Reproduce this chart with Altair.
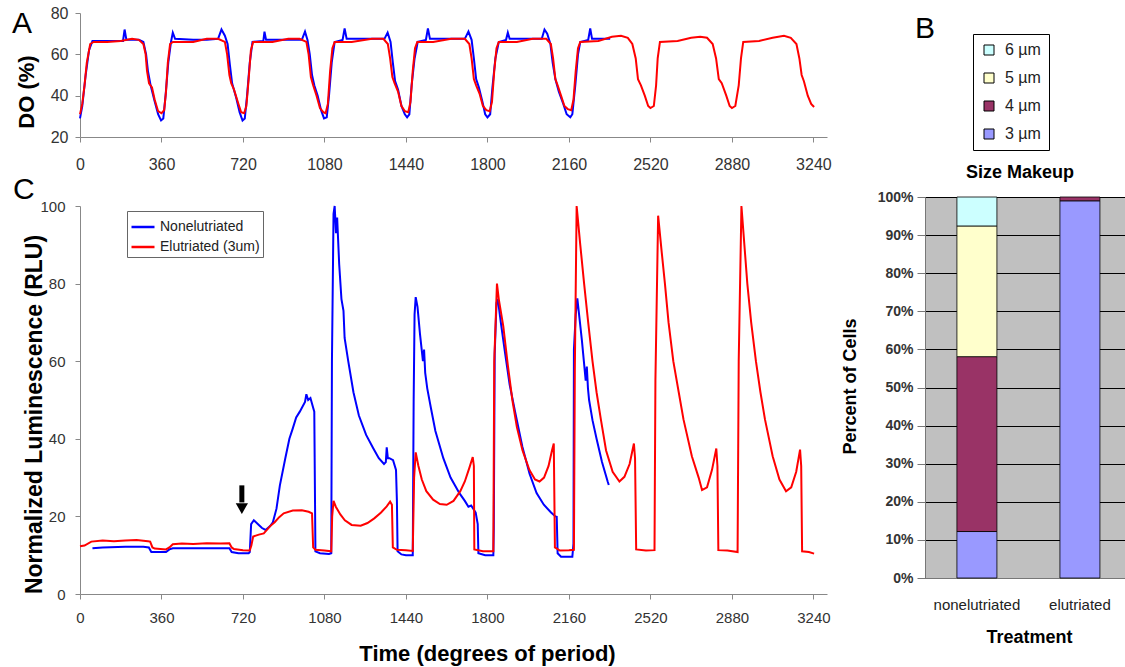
import altair as alt
import pandas as pd

FONT = "Liberation Sans"
BLUE = "#0000FF"
RED = "#FF0000"

# ---------------- Panel A : dissolved oxygen (%) ----------------
do_elut_x = [0, 10, 20, 30, 45, 60, 120, 180, 230, 260, 280, 290, 296, 305, 318, 330, 345, 360, 372, 380,
             388, 398, 410, 500, 560, 610, 640, 650, 660, 668, 680, 700, 712, 725, 735, 745, 755, 765, 850, 920,
             970, 1000, 1010, 1020, 1030, 1045, 1060, 1075, 1085, 1095, 1105, 1115, 1125, 1200, 1290, 1340, 1360,
             1370, 1380, 1390, 1405, 1420, 1435, 1450, 1460, 1470, 1480, 1490, 1560, 1640, 1700, 1720, 1730, 1740,
             1750, 1765, 1780, 1795, 1810, 1820, 1830, 1840, 1850, 1930, 2000, 2060, 2080, 2090, 2100, 2110, 2125,
             2140, 2155, 2170, 2180, 2190, 2200, 2210, 2290, 2350, 2390, 2420, 2440, 2455, 2465, 2478, 2495, 2510,
             2520, 2535, 2545, 2552, 2562, 2640, 2700, 2740, 2770, 2795, 2810, 2822, 2835, 2855, 2870, 2880, 2895,
             2910, 2920, 2930, 3000, 3060, 3110, 3140, 3165, 3178, 3188, 3198, 3215, 3230, 3243]
do_elut_y = [31, 36, 45, 56, 65, 66, 66, 66.5, 67.5, 67, 65, 60, 52, 46, 44, 38, 32.5, 31.5, 33, 42,
             56, 65, 66, 66, 67.5, 67.5, 66, 60, 50, 46, 43, 36, 32, 31.5, 35, 48, 62, 66, 66, 67.5,
             67.5, 66, 60, 49, 45, 40, 34, 32, 31.5, 36, 52, 63, 66, 66, 67.5, 67.5, 65,
             58, 49, 46, 42, 35, 32.5, 32, 37, 52, 63, 66, 66, 67.5, 67.5, 65, 58, 48,
             45, 41, 35, 33, 32.5, 37, 52, 63, 66, 66, 67.5, 67.5, 65, 58, 48, 45, 40,
             35, 33.5, 33, 38, 52, 63, 66, 66.5, 68.5, 69, 68, 65, 58, 48, 45, 40, 35,
             34, 35, 45, 58, 66, 66.5, 68, 68.5, 68, 65, 58, 48, 46, 40, 35, 34, 35,
             45, 58, 66, 66.5, 68, 69, 68, 65, 58, 50, 47, 40, 36, 34.5]

do_non_x = [0, 10, 25, 40, 55, 120, 190, 197, 205, 260, 280, 292, 300, 312, 328, 345, 358, 368, 378, 390,
            402, 410, 420, 500, 560, 610, 625, 640, 652, 662, 672, 690, 705, 718, 728, 738, 750, 762, 810, 815,
            822, 900, 980, 994, 1005, 1015, 1025, 1035, 1050, 1065, 1078, 1090, 1100, 1112, 1125, 1160, 1169,
            1178, 1260, 1345, 1359, 1372, 1382, 1392, 1405, 1420, 1435, 1445, 1455, 1465, 1478, 1492, 1528, 1537,
            1546, 1620, 1700, 1716, 1730, 1740, 1750, 1762, 1778, 1790, 1800, 1812, 1822, 1835, 1850, 1882, 1890,
            1898, 1980, 2040, 2052, 2064, 2078, 2088, 2100, 2115, 2135, 2150, 2166, 2175, 2188, 2200, 2210, 2245,
            2254, 2262, 2300, 2342]
do_non_y = [29, 35, 50, 62, 66.5, 66.5, 66.5, 72, 67, 67, 66, 60, 52, 45, 38, 31, 28, 29, 40, 56,
            66, 70.5, 67.5, 67, 67, 67.5, 72, 69, 65, 55, 46, 39, 32, 28, 29, 40, 56, 66, 66.5, 71,
            67, 67, 67, 71, 67, 60, 50, 45, 40, 33, 29, 29.5, 40, 56, 66, 67, 72.5,
            67.5, 67.5, 67.5, 70.5, 66, 56, 47, 43, 35, 31, 29.5, 31, 45, 58, 66, 67, 72.5,
            67.5, 67.5, 67.5, 71, 67, 58, 48, 44, 37, 31, 29.5, 31, 44, 58, 66, 67, 70.5,
            67.5, 67.5, 67.5, 72, 70, 65, 56, 48, 42, 36, 31, 29.5, 31, 45, 60, 66, 67,
            72.5, 67.5, 67.5, 67.5]

# ---------------- Panel C : normalized luminescence ----------------
lum_elut_x = [0, 20, 50, 100, 150, 200, 250, 300, 310, 320, 330, 380, 395, 410, 450, 500, 560, 620, 660, 670,
              680, 720, 750, 757, 765, 790, 812, 840, 860, 880, 900, 940, 980, 1010, 1025, 1030, 1040, 1080, 1110,
              1114, 1120, 1130, 1150, 1170, 1200, 1240, 1270, 1300, 1330, 1355, 1370, 1378, 1382, 1400, 1440, 1470,
              1476, 1483, 1495, 1510, 1530, 1560, 1590, 1620, 1650, 1680, 1700, 1720, 1735, 1740, 1742, 1780, 1826,
              1830, 1842, 1850, 1870, 1890, 1910, 1930, 1955, 1985, 2010, 2030, 2050, 2070, 2085, 2093, 2098, 2120,
              2160, 2182, 2186, 2194, 2210, 2227, 2245, 2264, 2282, 2301, 2324, 2353, 2383, 2405, 2428, 2447, 2452,
              2457, 2500, 2538, 2542, 2554, 2570, 2584, 2600, 2621, 2645, 2666, 2703, 2733, 2748, 2770, 2792, 2811,
              2816, 2820, 2860, 2905, 2910, 2922, 2935, 2948, 2965, 2986, 3006, 3026, 3060, 3090, 3119, 3142, 3164,
              3181, 3186, 3190, 3220, 3243]
lum_elut_y = [12.3, 12.5, 13.5, 13.8, 13.6, 13.8, 13.9, 13.6, 13.5, 12, 11.7, 11.5, 12, 12.8, 13.0, 12.9, 13.1, 13.0, 13.1, 12.0,
              11.6, 11.3, 11.2, 12.5, 14.8, 15.3, 15.6, 17.5, 18.5, 19.8, 20.8, 21.5, 21.6, 21.2, 20.8, 12, 11.4, 11.2, 11.0,
              20, 24, 22.5, 20.5, 19, 17.8, 17.6, 18.3, 19.5, 21, 22.6, 23.8, 23, 12, 11.4, 11.3, 11.1,
              30, 36.5, 33, 29.5, 26.5, 24.3, 23.2, 23.0, 24, 26.5, 29, 32.5, 35.3, 33, 11.5, 11, 11,
              60, 80, 76, 69, 59, 50, 43, 37, 32, 29.5, 29, 30, 33, 37, 38.8, 12, 11.2,
              11.3, 11.4, 58, 100, 90, 80, 70, 60, 52, 45, 37, 31.5, 29, 30.2, 33.5, 38.8, 35,
              11.5, 11.2, 11.3, 55, 97.5, 88, 80, 70, 60, 52, 45, 35.5, 30, 26.8, 27.5, 32, 37.5,
              33, 11.3, 11.2, 10.8, 60, 100, 90, 80, 70, 60, 52, 45, 35.5, 29.5, 26.5, 27.5, 31.5,
              37.2, 33, 11, 10.8, 10.4]

lum_non_x = [55, 100, 200, 280, 304, 315, 380, 395, 410, 500, 600, 660, 670, 700, 745, 750, 756, 768, 790, 804,
             820, 840, 852, 868, 883, 907, 925, 939, 955, 971, 994, 1000, 1008, 1018, 1030, 1035, 1040, 1060, 1100,
             1110, 1113, 1120, 1125, 1131, 1136, 1145, 1155, 1164, 1169, 1185, 1208, 1232, 1264, 1296, 1320, 1343,
             1351, 1355, 1360, 1367, 1383, 1396, 1400, 1403, 1420, 1440, 1470, 1474, 1478, 1483, 1491, 1502, 1515,
             1520, 1525, 1534, 1550, 1570, 1605, 1637, 1676, 1700, 1716, 1728, 1748, 1757, 1760, 1790, 1826, 1828,
             1832, 1840, 1846, 1859, 1878, 1898, 1922, 1954, 1986, 2017, 2049, 2081, 2100, 2106, 2110, 2125, 2175,
             2180, 2182, 2190, 2197, 2217, 2234, 2239, 2244, 2249, 2264, 2282, 2306, 2331, 2336]
lum_non_y = [11.8, 12, 12.2, 12.2, 12, 10.8, 10.8, 11.5, 11.8, 11.8, 11.8, 11.8, 10.8, 10.5, 10.5, 10.8, 18, 19, 17.8, 17,
             16.5, 17.5, 18.5, 22, 28, 35, 40, 42.5, 45.5, 47, 49.5, 51.5, 50, 50.5, 48, 47, 11, 10.5, 10.3,
             10.5, 60, 98, 100, 93, 97, 85, 76, 73, 66, 60, 52, 46, 41, 37.5, 35, 33.5,
             34, 37.8, 35, 35, 34.5, 32, 24, 11, 10.2, 10, 10, 50, 72, 76.5, 74, 67, 60,
             63, 57, 53, 48, 42, 35, 30, 26, 24, 22.5, 22.8, 21, 18, 10.5, 10, 10, 17,
             62, 75, 76, 70, 62, 54, 47, 38, 31, 26, 23, 21, 20, 19.9, 10.5, 9.6, 9.6,
             13, 63, 72, 76.2, 65.5, 55, 58.6, 53, 50, 44.8, 40, 34, 29, 28.1]

# arrow marking the treatment time (degrees, RLU)
arrow_deg = [715]
arrow_top = [28]
arrow_neck = [23.6]
arrow_tip = [22]

series_names = ["Nonelutriated", "Elutriated (3um)"]
deg_ticks = [0, 360, 720, 1080, 1440, 1800, 2160, 2520, 2880, 3240]

# ---------------- Panel B : size makeup ----------------
treatments = ["nonelutriated", "nonelutriated", "nonelutriated", "nonelutriated", "elutriated", "elutriated"]
sizes = ["3 µm", "4 µm", "5 µm", "6 µm", "3 µm", "4 µm"]
fractions = [0.122, 0.459, 0.343, 0.076, 0.99, 0.01]
size_legend_order = ["6 µm", "5 µm", "4 µm", "3 µm"]
size_colors = ["#CCFFFF", "#FFFFCC", "#993366", "#9999FF"]
pct_ticks = [0, 0.1, 0.2, 0.3, 0.4, 0.5, 0.6, 0.7, 0.8, 0.9, 1.0]
panel_b_title = "Size Makeup"

# ===================== build =====================
letter = lambda s: pd.DataFrame({"t": [s]})


def x_axis(size, pad, title=None, **kw):
    return alt.Axis(values=deg_ticks, format="d", grid=False, labelFontSize=size, labelColor="#333",
                    tickSize=5, tickColor="#888", domainColor="#888", labelPadding=pad,
                    labelFlush=False, labelOverlap=False, title=title, **kw)


# ---- A ----
xA = alt.X("deg:Q", scale=alt.Scale(domain=[0, 3300], nice=False, zero=False), axis=x_axis(16, 14))
yA = alt.Y("val:Q", scale=alt.Scale(domain=[20, 80], nice=False, zero=False),
           axis=alt.Axis(values=[20, 40, 60, 80], grid=False, labelFontSize=16, labelColor="#333",
                         tickSize=5, tickColor="#888", domainColor="#888", labelPadding=7,
                         title="DO (%)", titleFontSize=22, titleFontWeight="bold", titleColor="black",
                         titleAngle=270, titleX=-47, titleY=78.5, titleBaseline="alphabetic",
                         titleAlign="center"))
dfA_non = pd.DataFrame({"deg": do_non_x, "val": do_non_y})
dfA_el = pd.DataFrame({"deg": do_elut_x, "val": do_elut_y})
A = alt.layer(
    alt.Chart(dfA_non).mark_line(strokeWidth=2, color=BLUE).encode(x=xA, y=yA),
    alt.Chart(dfA_el).mark_line(strokeWidth=2, color=RED).encode(x=xA, y=yA),
    alt.Chart(letter("A")).mark_text(fontSize=30, align="left", baseline="alphabetic", color="black")
    .encode(text="t:N", x=alt.value(-68), y=alt.value(20)),
).properties(width=747, height=124)

# ---- C ----
xC = alt.X("deg:Q", scale=alt.Scale(domain=[0, 3300], nice=False, zero=False),
           axis=x_axis(15, 11, title="Time (degrees of period)", titleFontSize=22, titleFontWeight="bold",
                       titleColor="black", titleX=407, titleY=66, titleBaseline="alphabetic",
                       titleAlign="center"))
yC = alt.Y("val:Q", scale=alt.Scale(domain=[0, 100], range=[397, 9], nice=False, zero=False),
           axis=alt.Axis(values=[0, 20, 40, 60, 80, 100], grid=False, labelFontSize=15, labelColor="#333",
                         tickSize=5, tickColor="#888", domainColor="#888", labelPadding=10,
                         title="Normalized Luminescence (RLU)", titleFontSize=23, titleFontWeight="bold",
                         titleColor="black", titleAngle=270, titleX=-39, titleY=217,
                         titleBaseline="alphabetic", titleAlign="center"))
legC = alt.Legend(title=None, orient="none", legendX=47, legendY=14, symbolType="stroke", symbolSize=529,
                  symbolStrokeWidth=2.5, labelFontSize=14, labelColor="#222", labelOffset=4,
                  strokeColor="#666", fillColor="white", padding=3, rowPadding=0)
colC = alt.Color("series:N", scale=alt.Scale(domain=series_names, range=[BLUE, RED]), legend=legC)
dfC_non = pd.DataFrame({"deg": lum_non_x, "val": lum_non_y, "series": series_names[0]})
dfC_el = pd.DataFrame({"deg": lum_elut_x, "val": lum_elut_y, "series": series_names[1]})
df_arrow = pd.DataFrame({"deg": arrow_deg, "val": arrow_top, "val2": arrow_neck})
df_tip = pd.DataFrame({"deg": arrow_deg, "val": arrow_tip})
C = alt.layer(
    alt.Chart(dfC_non).mark_line(strokeWidth=2).encode(x=xC, y=yC, color=colC),
    alt.Chart(dfC_el).mark_line(strokeWidth=2).encode(x=xC, y=yC, color=colC),
    alt.Chart(df_arrow).mark_rule(strokeWidth=5, color="black").encode(x=xC, y=yC, y2="val2:Q"),
    alt.Chart(df_tip).mark_point(shape="triangle-down", filled=True, size=150, color="black", opacity=1)
    .encode(x=xC, y=yC),
    alt.Chart(letter("C")).mark_text(fontSize=30, align="left", baseline="alphabetic", color="black")
    .encode(text="t:N", x=alt.value(-67), y=alt.value(2)),
).properties(width=747, height=397)

# ---- B placeholder (letter) ----
P = alt.Chart(letter("B")).mark_text(fontSize=30, align="left", baseline="alphabetic", color="black").encode(
    text="t:N", x=alt.value(-10), y=alt.value(25)).properties(width=200, height=124)

# ---- B bars ----
rank = {"3 µm": 0, "4 µm": 1, "5 µm": 2, "6 µm": 3}
dfB = pd.DataFrame({"treat": treatments, "size": sizes, "frac": fractions,
                    "rank": [rank[s] for s in sizes]})
legB = alt.Legend(title=None, orient="none", legendX=48, legendY=-163, symbolType="square", symbolSize=100,
                  symbolStrokeColor="black", symbolStrokeWidth=1, labelFontSize=16, labelColor="#222",
                  labelOffset=8, rowPadding=12, padding=8, strokeColor="black", fillColor="white")
bars = alt.Chart(dfB).mark_bar(stroke="black", strokeWidth=0.8).encode(
    x=alt.X("treat:N", sort=["nonelutriated", "elutriated"],
            scale=alt.Scale(paddingInner=0.6117, paddingOuter=0.2767, align=0.56),
            axis=alt.Axis(title="Treatment", labelAngle=0, tickSize=0, labelPadding=19, labelFontSize=15,
                          labelColor="#222", titleFontSize=18, titleFontWeight="bold", titleColor="black",
                          titleX=104, titleY=64, titleBaseline="alphabetic", titleAlign="center",
                          domainColor="#777")),
    y=alt.Y("frac:Q", stack="zero", scale=alt.Scale(domain=[0, 1], nice=False),
            axis=alt.Axis(values=pct_ticks, format=".0%", grid=True, gridColor="black", gridWidth=1,
                          tickSize=8, tickColor="#777", domainColor="#777", labelPadding=4, labelFontSize=14,
                          labelFontWeight="bold", labelColor="#333", title="Percent of Cells",
                          titleFontSize=18, titleFontWeight="bold", titleColor="black", titleAngle=270,
                          titleX=-70, titleY=189, titleBaseline="alphabetic", titleAlign="center")),
    color=alt.Color("size:N", scale=alt.Scale(domain=size_legend_order, range=size_colors), legend=legB),
    order=alt.Order("rank:Q", sort="ascending"),
)
b_title = alt.Chart(letter(panel_b_title)).mark_text(
    fontSize=18, fontWeight="bold", align="center", baseline="alphabetic", color="black"
).encode(text="t:N", x=alt.value(95), y=alt.value(-19))
B = alt.layer(bars, b_title).properties(width=200, height=381,
                                        view=alt.ViewBackground(fill="#C0C0C0", strokeWidth=0))

chart = alt.concat(A, P, C, B, columns=2, spacing={"row": 60, "column": 98}, bounds="flush",
                   align="each").resolve_scale(
    color="independent", x="independent", y="independent"
).resolve_legend(color="independent").properties(
    autosize=alt.AutoSizeParams(type="none"),
    padding={"left": 80, "top": 13, "right": 1045, "bottom": 654},
).configure(font=FONT).configure_view(strokeWidth=0)

chart.save("out.html", embed_options={"renderer": "svg", "actions": False})
